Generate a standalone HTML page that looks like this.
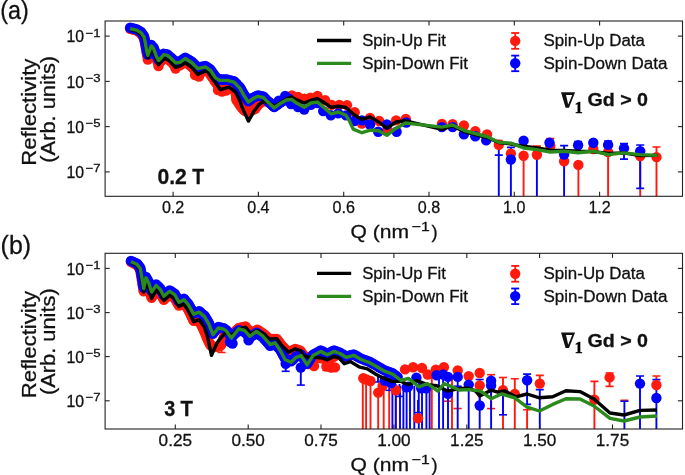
<!DOCTYPE html>
<html><head><meta charset="utf-8"><style>
html,body{margin:0;padding:0;background:#fff;}
body{width:685px;height:475px;overflow:hidden;font-family:"Liberation Sans",sans-serif;}
svg{display:block;will-change:transform;}
text{stroke:#111;stroke-width:0.28px;}
</style></head><body>
<svg width="685" height="475" viewBox="0 0 685 475" font-family="Liberation Sans, sans-serif">
<rect width="685" height="475" fill="#ffffff"/>
<defs><clipPath id="ca"><rect x="105.1" y="21" width="577.4" height="175.3"/></clipPath>
<clipPath id="cb"><rect x="105.1" y="253.3" width="577.4" height="175.7"/></clipPath></defs>
<g clip-path="url(#ca)">
<g stroke="#ff1a0d" stroke-width="1.9"><line x1="498.8" y1="140.6" x2="498.8" y2="144.7"/><line x1="494.8" y1="140.6" x2="502.8" y2="140.6" stroke-width="1.6"/><line x1="536.9" y1="146.1" x2="536.9" y2="154.8"/><line x1="532.9" y1="146.1" x2="540.9" y2="146.1" stroke-width="1.6"/><line x1="550.3" y1="138.5" x2="550.3" y2="146"/><line x1="546.3" y1="138.5" x2="554.3" y2="138.5" stroke-width="1.6"/><line x1="523.6" y1="155.8" x2="523.6" y2="196.3"/><line x1="578.4" y1="164.9" x2="578.4" y2="196.3"/><line x1="593.3" y1="146.5" x2="593.3" y2="151.5"/><line x1="589.3" y1="146.5" x2="597.3" y2="146.5" stroke-width="1.6"/><line x1="589.3" y1="151.5" x2="597.3" y2="151.5" stroke-width="1.6"/><line x1="608.1" y1="151" x2="608.1" y2="196.3"/><line x1="640.2" y1="160" x2="640.2" y2="196.3"/><line x1="656.5" y1="147" x2="656.5" y2="196.3"/><line x1="652.5" y1="147" x2="660.5" y2="147" stroke-width="1.6"/></g>
<g stroke="#0000ff" stroke-width="1.9"><line x1="498.8" y1="147.7" x2="498.8" y2="196.3"/><line x1="494.8" y1="155.1" x2="502.8" y2="155.1" stroke-width="1.6"/><line x1="510.9" y1="147.4" x2="510.9" y2="196.3"/><line x1="506.9" y1="147.4" x2="514.9" y2="147.4" stroke-width="1.6"/><line x1="536.9" y1="155" x2="536.9" y2="196.3"/><line x1="564.1" y1="145.6" x2="564.1" y2="196.3"/><line x1="560.1" y1="145.6" x2="568.1" y2="145.6" stroke-width="1.6"/><line x1="578.1" y1="141.6" x2="578.1" y2="145.3"/><line x1="574.1" y1="141.6" x2="582.1" y2="141.6" stroke-width="1.6"/><line x1="624" y1="143.6" x2="624" y2="159.1"/><line x1="620" y1="143.6" x2="628" y2="143.6" stroke-width="1.6"/><line x1="620" y1="159.1" x2="628" y2="159.1" stroke-width="1.6"/><line x1="640.2" y1="145" x2="640.2" y2="188.4"/><line x1="636.2" y1="145" x2="644.2" y2="145" stroke-width="1.6"/><line x1="636.2" y1="188.4" x2="644.2" y2="188.4" stroke-width="1.6"/><line x1="608.1" y1="141" x2="608.1" y2="148"/><line x1="604.1" y1="141" x2="612.1" y2="141" stroke-width="1.6"/></g>
<g fill="#ff1a0d"><circle cx="130.1" cy="28.8" r="5.2"/><circle cx="132.2" cy="29.3" r="5.2"/><circle cx="134.3" cy="29.9" r="5.2"/><circle cx="136.4" cy="30.4" r="5.2"/><circle cx="138.6" cy="31.8" r="5.2"/><circle cx="140.8" cy="33.2" r="5.2"/><circle cx="141.9" cy="34.9" r="5.2"/><circle cx="142.9" cy="36.5" r="5.2"/><circle cx="144" cy="38.2" r="5.2"/><circle cx="144.4" cy="40.2" r="5.2"/><circle cx="144.9" cy="42.2" r="5.2"/><circle cx="145.3" cy="44.2" r="5.2"/><circle cx="145.6" cy="46.1" r="5.2"/><circle cx="145.9" cy="48" r="5.2"/><circle cx="146.2" cy="49.8" r="5.2"/><circle cx="146.5" cy="51.7" r="5.2"/><circle cx="146.9" cy="53.5" r="5.2"/><circle cx="147.4" cy="55.4" r="5.2"/><circle cx="147.8" cy="57.2" r="5.2"/><circle cx="148.8" cy="55" r="5.2"/><circle cx="149.7" cy="52.7" r="5.2"/><circle cx="150.5" cy="50.5" r="5.2"/><circle cx="151.3" cy="48.2" r="5.2"/><circle cx="153.5" cy="50.7" r="5.2"/><circle cx="154.1" cy="52.5" r="5.2"/><circle cx="154.8" cy="54.2" r="5.2"/><circle cx="155.4" cy="56" r="5.2"/><circle cx="156" cy="57.7" r="5.2"/><circle cx="156.8" cy="59.8" r="5.2"/><circle cx="157.7" cy="61.9" r="5.2"/><circle cx="158.5" cy="64" r="5.2"/><circle cx="159.8" cy="62.4" r="5.2"/><circle cx="161.1" cy="60.7" r="5.2"/><circle cx="162.3" cy="59.2" r="5.2"/><circle cx="163.6" cy="57.7" r="5.2"/><circle cx="165.5" cy="58.2" r="5.2"/><circle cx="167.4" cy="58.7" r="5.2"/><circle cx="169.3" cy="60.2" r="5.2"/><circle cx="171.2" cy="61.7" r="5.2"/><circle cx="172.7" cy="63.3" r="5.2"/><circle cx="174.1" cy="65" r="5.2"/><circle cx="175.6" cy="66.6" r="5.2"/><circle cx="177.8" cy="65.9" r="5.2"/><circle cx="180" cy="65.2" r="5.2"/><circle cx="181.7" cy="64.1" r="5.2"/><circle cx="183.5" cy="63" r="5.2"/><circle cx="185.2" cy="61.9" r="5.2"/><circle cx="186.9" cy="63.1" r="5.2"/><circle cx="188.6" cy="64.3" r="5.2"/><circle cx="190.2" cy="65.5" r="5.2"/><circle cx="191.9" cy="66.7" r="5.2"/><circle cx="193.1" cy="68.1" r="5.2"/><circle cx="194.3" cy="69.5" r="5.2"/><circle cx="195.4" cy="70.9" r="5.2"/><circle cx="196.6" cy="72.3" r="5.2"/><circle cx="197.8" cy="73.7" r="5.2"/><circle cx="199.6" cy="72.9" r="5.2"/><circle cx="201.5" cy="72" r="5.2"/><circle cx="203.3" cy="71.2" r="5.2"/><circle cx="205.2" cy="70.3" r="5.2"/><circle cx="207" cy="69.5" r="5.2"/><circle cx="208.1" cy="71.2" r="5.2"/><circle cx="209.3" cy="72.9" r="5.2"/><circle cx="210.4" cy="74.5" r="5.2"/><circle cx="211.5" cy="76.2" r="5.2"/><circle cx="212.7" cy="77.9" r="5.2"/><circle cx="213.8" cy="79.6" r="5.2"/><circle cx="214.9" cy="81.2" r="5.2"/><circle cx="216" cy="82.7" r="5.2"/><circle cx="217.2" cy="84.3" r="5.2"/><circle cx="218.3" cy="85.8" r="5.2"/><circle cx="219.4" cy="87.4" r="5.2"/><circle cx="220.5" cy="88.9" r="5.2"/><circle cx="222.6" cy="88.3" r="5.2"/><circle cx="224.8" cy="87.7" r="5.2"/><circle cx="226.9" cy="87" r="5.2"/><circle cx="229" cy="86.4" r="5.2"/><circle cx="230.7" cy="87.7" r="5.2"/><circle cx="232.3" cy="88.9" r="5.2"/><circle cx="234" cy="90.2" r="5.2"/><circle cx="235.7" cy="91.4" r="5.2"/><circle cx="235.8" cy="93.5" r="5.2"/><circle cx="236" cy="95.5" r="5.2"/><circle cx="236.2" cy="97.6" r="5.2"/><circle cx="236.3" cy="99.7" r="5.2"/><circle cx="237.7" cy="101.7" r="5.2"/><circle cx="239" cy="103.7" r="5.2"/><circle cx="240.3" cy="105.7" r="5.2"/><circle cx="241.6" cy="107.6" r="5.2"/><circle cx="243.1" cy="109.2" r="5.2"/><circle cx="244.7" cy="110.8" r="5.2"/><circle cx="248" cy="112" r="5.2"/><circle cx="251" cy="110.8" r="5.2"/><circle cx="253.2" cy="109.8" r="5.2"/><circle cx="255.3" cy="108.7" r="5.2"/><circle cx="256.9" cy="106.6" r="5.2"/><circle cx="258.4" cy="104.5" r="5.2"/><circle cx="260.2" cy="103" r="5.2"/><circle cx="262" cy="101.5" r="5.2"/><circle cx="263.2" cy="100.8" r="5.2"/><circle cx="265.8" cy="101.3" r="5.2"/><circle cx="268.4" cy="101.8" r="5.2"/><circle cx="270" cy="102.7" r="5.2"/><circle cx="271.5" cy="103.6" r="5.2"/><circle cx="273.1" cy="104.6" r="5.2"/><circle cx="274.7" cy="105.5" r="5.2"/><circle cx="276.6" cy="104.3" r="5.2"/><circle cx="278.4" cy="103.1" r="5.2"/><circle cx="280.2" cy="102" r="5.2"/><circle cx="282.1" cy="100.8" r="5.2"/><circle cx="283.9" cy="99.7" r="5.2"/><circle cx="285.6" cy="98.7" r="5.2"/><circle cx="287.4" cy="97.6" r="5.2"/><circle cx="289.5" cy="97" r="5.2"/><circle cx="147.8" cy="59.5" r="5.2"/><circle cx="158.5" cy="66" r="5.2"/><circle cx="175.6" cy="68.5" r="5.2"/><circle cx="195" cy="75" r="5.2"/><circle cx="199" cy="76.5" r="5.2"/><circle cx="218" cy="90" r="5.2"/><circle cx="222" cy="91.5" r="5.2"/><circle cx="226" cy="90.5" r="5.2"/><circle cx="291.9" cy="95.4" r="5.2"/><circle cx="298" cy="97" r="5.2"/><circle cx="304.2" cy="98.7" r="5.2"/><circle cx="310.4" cy="97.8" r="5.2"/><circle cx="317.5" cy="95.9" r="5.2"/><circle cx="325.1" cy="100.2" r="5.2"/><circle cx="331.7" cy="104.9" r="5.2"/><circle cx="339.3" cy="104.9" r="5.2"/><circle cx="347" cy="105.1" r="5.2"/><circle cx="354.7" cy="112.3" r="5.2"/><circle cx="361.9" cy="123.5" r="5.2"/><circle cx="370" cy="117.9" r="5.2"/><circle cx="379.2" cy="121" r="5.2"/><circle cx="387.4" cy="129.6" r="5.2"/><circle cx="396.1" cy="120.4" r="5.2"/><circle cx="405.8" cy="119" r="5.2"/><circle cx="441.9" cy="124" r="5.2"/><circle cx="452.6" cy="124.3" r="5.2"/><circle cx="463.9" cy="125.5" r="5.2"/><circle cx="475.3" cy="131.2" r="5.2"/><circle cx="487" cy="134.5" r="5.2"/><circle cx="498.8" cy="144.7" r="5.2"/><circle cx="510.9" cy="153.6" r="5.2"/><circle cx="523.6" cy="155.8" r="5.2"/><circle cx="536.9" cy="154.8" r="5.2"/><circle cx="550.3" cy="146" r="5.2"/><circle cx="564.1" cy="161.3" r="5.2"/><circle cx="578.4" cy="164.9" r="5.2"/><circle cx="593.3" cy="149" r="5.2"/><circle cx="608.1" cy="152" r="5.2"/><circle cx="640.2" cy="156" r="5.2"/><circle cx="656.5" cy="157.1" r="5.2"/></g>
<g fill="#0000ff"><circle cx="130.1" cy="27.7" r="5.2"/><circle cx="132.2" cy="28.2" r="5.2"/><circle cx="134.3" cy="28.7" r="5.2"/><circle cx="136.4" cy="29.2" r="5.2"/><circle cx="138.6" cy="30.5" r="5.2"/><circle cx="140.8" cy="31.7" r="5.2"/><circle cx="141.9" cy="33.2" r="5.2"/><circle cx="142.9" cy="34.7" r="5.2"/><circle cx="144" cy="36.2" r="5.2"/><circle cx="144.4" cy="38.1" r="5.2"/><circle cx="144.9" cy="39.9" r="5.2"/><circle cx="145.3" cy="41.8" r="5.2"/><circle cx="145.6" cy="43.7" r="5.2"/><circle cx="145.9" cy="45.6" r="5.2"/><circle cx="146.2" cy="47.5" r="5.2"/><circle cx="146.5" cy="49.4" r="5.2"/><circle cx="147.2" cy="51.9" r="5.2"/><circle cx="147.8" cy="54.5" r="5.2"/><circle cx="148.4" cy="52.8" r="5.2"/><circle cx="149.1" cy="51.1" r="5.2"/><circle cx="149.7" cy="49.4" r="5.2"/><circle cx="150.5" cy="47.2" r="5.2"/><circle cx="151.3" cy="45" r="5.2"/><circle cx="153.5" cy="47.5" r="5.2"/><circle cx="154.1" cy="49.2" r="5.2"/><circle cx="154.8" cy="51" r="5.2"/><circle cx="155.4" cy="52.8" r="5.2"/><circle cx="156" cy="54.5" r="5.2"/><circle cx="156.8" cy="56.2" r="5.2"/><circle cx="157.7" cy="57.8" r="5.2"/><circle cx="158.5" cy="59.5" r="5.2"/><circle cx="159.8" cy="58.2" r="5.2"/><circle cx="161.1" cy="57" r="5.2"/><circle cx="162.3" cy="55.4" r="5.2"/><circle cx="163.6" cy="53.8" r="5.2"/><circle cx="165.5" cy="54.1" r="5.2"/><circle cx="167.4" cy="54.5" r="5.2"/><circle cx="169.3" cy="56.1" r="5.2"/><circle cx="171.2" cy="57.6" r="5.2"/><circle cx="172.7" cy="59.1" r="5.2"/><circle cx="174.1" cy="60.5" r="5.2"/><circle cx="175.6" cy="62" r="5.2"/><circle cx="177.8" cy="61.7" r="5.2"/><circle cx="180" cy="61.4" r="5.2"/><circle cx="181.7" cy="60.1" r="5.2"/><circle cx="183.5" cy="58.9" r="5.2"/><circle cx="185.2" cy="57.6" r="5.2"/><circle cx="186.9" cy="58.6" r="5.2"/><circle cx="188.6" cy="59.7" r="5.2"/><circle cx="190.2" cy="60.8" r="5.2"/><circle cx="191.9" cy="61.8" r="5.2"/><circle cx="193.4" cy="63.3" r="5.2"/><circle cx="194.9" cy="64.8" r="5.2"/><circle cx="196.3" cy="66.2" r="5.2"/><circle cx="197.8" cy="67.7" r="5.2"/><circle cx="199.7" cy="67.3" r="5.2"/><circle cx="201.6" cy="66.8" r="5.2"/><circle cx="203.5" cy="66.4" r="5.2"/><circle cx="205.4" cy="66" r="5.2"/><circle cx="207.1" cy="67.1" r="5.2"/><circle cx="208.7" cy="68.3" r="5.2"/><circle cx="210.4" cy="69.4" r="5.2"/><circle cx="211.4" cy="70.9" r="5.2"/><circle cx="212.4" cy="72.4" r="5.2"/><circle cx="213.5" cy="74" r="5.2"/><circle cx="214.5" cy="75.5" r="5.2"/><circle cx="215.5" cy="77" r="5.2"/><circle cx="217.6" cy="78.2" r="5.2"/><circle cx="219.7" cy="79.5" r="5.2"/><circle cx="221.6" cy="79.5" r="5.2"/><circle cx="223.5" cy="79.5" r="5.2"/><circle cx="225.4" cy="79.5" r="5.2"/><circle cx="227.3" cy="79.5" r="5.2"/><circle cx="229.5" cy="80.1" r="5.2"/><circle cx="231.8" cy="80.6" r="5.2"/><circle cx="234" cy="81.2" r="5.2"/><circle cx="235.5" cy="82.8" r="5.2"/><circle cx="237" cy="84.3" r="5.2"/><circle cx="238.5" cy="85.9" r="5.2"/><circle cx="240" cy="87.5" r="5.2"/><circle cx="241.1" cy="89.3" r="5.2"/><circle cx="242.1" cy="91.2" r="5.2"/><circle cx="243.1" cy="93" r="5.2"/><circle cx="244.2" cy="94.9" r="5.2"/><circle cx="245.2" cy="96.5" r="5.2"/><circle cx="246.3" cy="98" r="5.2"/><circle cx="247.3" cy="99.6" r="5.2"/><circle cx="248.4" cy="101.2" r="5.2"/><circle cx="250.5" cy="99.6" r="5.2"/><circle cx="252.6" cy="98" r="5.2"/><circle cx="254.4" cy="97.1" r="5.2"/><circle cx="256.1" cy="96.3" r="5.2"/><circle cx="257.9" cy="95.4" r="5.2"/><circle cx="259.7" cy="95.8" r="5.2"/><circle cx="261.4" cy="96.1" r="5.2"/><circle cx="263.2" cy="96.5" r="5.2"/><circle cx="264.5" cy="97.8" r="5.2"/><circle cx="265.8" cy="99.1" r="5.2"/><circle cx="267.1" cy="100.4" r="5.2"/><circle cx="268.4" cy="101.7" r="5.2"/><circle cx="269.8" cy="103" r="5.2"/><circle cx="271.3" cy="104.3" r="5.2"/><circle cx="272.8" cy="105.7" r="5.2"/><circle cx="274.2" cy="107" r="5.2"/><circle cx="276.1" cy="105.6" r="5.2"/><circle cx="278.1" cy="104.2" r="5.2"/><circle cx="280" cy="102.8" r="5.2"/><circle cx="281.6" cy="101.9" r="5.2"/><circle cx="283.1" cy="100.9" r="5.2"/><circle cx="284.7" cy="100" r="5.2"/><circle cx="286.3" cy="99.1" r="5.2"/><circle cx="289" cy="98.8" r="5.2"/><circle cx="278.8" cy="100.8" r="5.2"/><circle cx="285.2" cy="96" r="5.2"/><circle cx="291" cy="104" r="5.2"/><circle cx="298" cy="107" r="5.2"/><circle cx="304.2" cy="109.6" r="5.2"/><circle cx="310.9" cy="104.9" r="5.2"/><circle cx="317.5" cy="103" r="5.2"/><circle cx="323.2" cy="111.1" r="5.2"/><circle cx="330.8" cy="115.3" r="5.2"/><circle cx="338.3" cy="113.4" r="5.2"/><circle cx="346" cy="115.4" r="5.2"/><circle cx="354.2" cy="121" r="5.2"/><circle cx="361.9" cy="120.4" r="5.2"/><circle cx="370" cy="124.5" r="5.2"/><circle cx="378.2" cy="131.7" r="5.2"/><circle cx="386.9" cy="124.5" r="5.2"/><circle cx="396.6" cy="131.7" r="5.2"/><circle cx="406.3" cy="122.5" r="5.2"/><circle cx="441.9" cy="127.1" r="5.2"/><circle cx="452.6" cy="127.1" r="5.2"/><circle cx="463.9" cy="134.2" r="5.2"/><circle cx="475.3" cy="136.2" r="5.2"/><circle cx="486.2" cy="140.4" r="5.2"/><circle cx="510.9" cy="159.5" r="5.2"/><circle cx="523.6" cy="140.8" r="5.2"/><circle cx="549.5" cy="142.8" r="5.2"/><circle cx="564.1" cy="154.5" r="5.2"/><circle cx="578.1" cy="145.3" r="5.2"/><circle cx="593.3" cy="142.7" r="5.2"/><circle cx="608.1" cy="144.9" r="5.2"/><circle cx="624" cy="148.3" r="5.2"/><circle cx="640.2" cy="151.2" r="5.2"/></g>
<polyline points="130.1,29.6 136.4,31.2 140.8,34 144,39 145.3,45 146.5,52.5 147.8,58 149.7,53.5 151.3,49 153.5,51.5 156,58.5 158.5,64.8 161.1,61.5 163.6,58.5 167.4,59.5 171.2,62.5 175.6,67.4 180,66 185.2,62.7 191.9,67.5 197.8,74.5 207,70.3 213.8,80.4 220.5,89.7 229,87.2 235.7,92.2 240,101 242.1,107.4 248.4,121.1 253.7,111.6 258.9,104.7 263.2,101.6 268.4,102.6 274.7,106.3 282.1,101.6 287.4,98.4 291.6,97.2 295.7,99.2 304.2,103 310.9,100.2 317.5,98.7 324.1,102.5 331.2,107.3 338.3,106.3 345.9,107.5 354.2,114.8 361.9,119.4 370,116.9 378.7,122 386.9,128.1 396.1,122 405.6,120.8 441.9,129.3 452.6,126 463.9,131.5 475.3,134.5 487,137.5 498.8,142.5 510.9,144 523.6,146.3 536.9,148 550.3,150.3 564.1,150.5 578.1,151.2 593.3,151.6 608.5,153.5 623.7,152.9 639.7,155.6 657.4,155.4" fill="none" stroke="#000000" stroke-width="3.4" stroke-linejoin="round"/>
<polyline points="130.1,28.6 136.4,30.1 140.8,32.6 144,37.1 145.3,42.7 146.5,50.3 147.8,55.4 149.7,50.3 151.3,45.9 153.5,48.4 156,55.4 158.5,60.4 161.1,57.9 163.6,54.7 167.4,55.4 171.2,58.5 175.6,62.9 180,62.3 185.2,58.5 191.9,62.7 197.8,68.6 205.4,66.9 210.4,70.3 215.5,77.9 219.7,80.4 227.3,80.4 234,82.1 240,88.4 244.2,95.8 248.4,102.1 252.6,98.9 257.9,96.3 263.2,97.4 268.4,102.6 274.2,107.9 280,103.7 286.3,100 291.6,99.4 295.7,102.5 304.2,107.3 310.9,103 317.5,102.1 324.1,107.7 331.2,113.9 338.3,112 345.9,115.3 349.1,120.4 353.2,129.1 361.9,132.7 370.5,130.1 378.7,130.7 386.9,135.3 394,129.6 405.6,123 441.9,127.1 452.6,125 463.9,130.3 475.3,133.5 487,136.5 498.8,142.3 510.9,143.2 523.6,148 536.9,149.6 550.3,152 564.1,151.2 578.1,152.8 593.3,151.2 608.5,154.6 623.7,152.9 639.7,154.6 657.4,155.4" fill="none" stroke="#2a8a1c" stroke-width="3.4" stroke-linejoin="round"/>
</g>
<g clip-path="url(#cb)">
<g stroke="#ff1a0d" stroke-width="1.9"><line x1="326.4" y1="366.5" x2="326.4" y2="370.3"/><line x1="322.4" y1="370.3" x2="330.4" y2="370.3" stroke-width="1.6"/><line x1="362.8" y1="378.1" x2="362.8" y2="429"/><line x1="366.1" y1="380" x2="366.1" y2="429"/><line x1="370.5" y1="381" x2="370.5" y2="429"/><line x1="378.2" y1="392" x2="378.2" y2="429"/><line x1="383.7" y1="385.5" x2="383.7" y2="429"/><line x1="389.2" y1="388" x2="389.2" y2="429"/><line x1="395.9" y1="390.5" x2="395.9" y2="429"/><line x1="431.8" y1="372" x2="431.8" y2="429"/><line x1="452" y1="375" x2="452" y2="429"/><line x1="457.7" y1="408.5" x2="457.7" y2="408.5"/><line x1="453.7" y1="408.5" x2="461.7" y2="408.5" stroke-width="1.6"/><line x1="448" y1="401.2" x2="448" y2="401.2"/><line x1="444" y1="401.2" x2="452" y2="401.2" stroke-width="1.6"/><line x1="479.7" y1="385.5" x2="479.7" y2="410"/><line x1="491.1" y1="374.7" x2="491.1" y2="408.6"/><line x1="487.1" y1="374.7" x2="495.1" y2="374.7" stroke-width="1.6"/><line x1="487.1" y1="408.6" x2="495.1" y2="408.6" stroke-width="1.6"/><line x1="503" y1="377.5" x2="503" y2="429"/><line x1="499" y1="377.5" x2="507" y2="377.5" stroke-width="1.6"/><line x1="514.8" y1="378.8" x2="514.8" y2="429"/><line x1="510.8" y1="378.8" x2="518.8" y2="378.8" stroke-width="1.6"/><line x1="527.1" y1="409.7" x2="527.1" y2="429"/><line x1="523.1" y1="409.7" x2="531.1" y2="409.7" stroke-width="1.6"/><line x1="539.8" y1="375.4" x2="539.8" y2="383.6"/><line x1="535.8" y1="375.4" x2="543.8" y2="375.4" stroke-width="1.6"/><line x1="594.4" y1="381.4" x2="594.4" y2="429"/><line x1="590.4" y1="381.4" x2="598.4" y2="381.4" stroke-width="1.6"/><line x1="609.6" y1="373" x2="609.6" y2="386.4"/><line x1="605.6" y1="373" x2="613.6" y2="373" stroke-width="1.6"/><line x1="605.6" y1="386.4" x2="613.6" y2="386.4" stroke-width="1.6"/><line x1="624.4" y1="400.4" x2="624.4" y2="401"/><line x1="620.4" y1="400.4" x2="628.4" y2="400.4" stroke-width="1.6"/><line x1="656.4" y1="376" x2="656.4" y2="385"/><line x1="652.4" y1="376" x2="660.4" y2="376" stroke-width="1.6"/><line x1="221.6" y1="345.5" x2="221.6" y2="352.5"/><line x1="217.6" y1="352.5" x2="225.6" y2="352.5" stroke-width="1.6"/></g>
<g stroke="#0000ff" stroke-width="1.9"><line x1="285.7" y1="363.7" x2="285.7" y2="371.3"/><line x1="281.7" y1="371.3" x2="289.7" y2="371.3" stroke-width="1.6"/><line x1="300.8" y1="367.5" x2="300.8" y2="385.1"/><line x1="296.8" y1="385.1" x2="304.8" y2="385.1" stroke-width="1.6"/><line x1="378" y1="376" x2="378" y2="382"/><line x1="374" y1="382" x2="382" y2="382" stroke-width="1.6"/><line x1="389.5" y1="380" x2="389.5" y2="390.3"/><line x1="385.5" y1="390.3" x2="393.5" y2="390.3" stroke-width="1.6"/><line x1="399.5" y1="384" x2="399.5" y2="396.4"/><line x1="395.5" y1="396.4" x2="403.5" y2="396.4" stroke-width="1.6"/><line x1="392.4" y1="383" x2="392.4" y2="429"/><line x1="395.7" y1="384" x2="395.7" y2="429"/><line x1="400" y1="386" x2="400" y2="429"/><line x1="403.4" y1="386" x2="403.4" y2="429"/><line x1="406.6" y1="387" x2="406.6" y2="429"/><line x1="410" y1="386" x2="410" y2="429"/><line x1="414.3" y1="386" x2="414.3" y2="429"/><line x1="418.8" y1="378" x2="418.8" y2="429"/><line x1="418" y1="400" x2="418" y2="412.6"/><line x1="414" y1="412.6" x2="422" y2="412.6" stroke-width="1.6"/><line x1="422" y1="388" x2="422" y2="429"/><line x1="426.4" y1="388" x2="426.4" y2="429"/><line x1="429.6" y1="388" x2="429.6" y2="429"/><line x1="439" y1="376" x2="439" y2="429"/><line x1="443.1" y1="375" x2="443.1" y2="429"/><line x1="448" y1="377" x2="448" y2="429"/><line x1="457.7" y1="377" x2="457.7" y2="429"/><line x1="453.7" y1="386.2" x2="461.7" y2="386.2" stroke-width="1.6"/><line x1="468.7" y1="384.6" x2="468.7" y2="429"/><line x1="479.7" y1="379.5" x2="479.7" y2="429"/><line x1="475.7" y1="379.5" x2="483.7" y2="379.5" stroke-width="1.6"/><line x1="491.1" y1="380.7" x2="491.1" y2="429"/><line x1="503" y1="395" x2="503" y2="414.8"/><line x1="499" y1="414.8" x2="507" y2="414.8" stroke-width="1.6"/><line x1="527.1" y1="374.1" x2="527.1" y2="404.4"/><line x1="523.1" y1="374.1" x2="531.1" y2="374.1" stroke-width="1.6"/><line x1="523.1" y1="404.4" x2="531.1" y2="404.4" stroke-width="1.6"/><line x1="539.8" y1="389.6" x2="539.8" y2="429"/><line x1="535.8" y1="389.6" x2="543.8" y2="389.6" stroke-width="1.6"/><line x1="624.4" y1="401.2" x2="624.4" y2="429"/><line x1="620.4" y1="401.2" x2="628.4" y2="401.2" stroke-width="1.6"/><line x1="640" y1="376" x2="640" y2="429"/><line x1="636" y1="376" x2="644" y2="376" stroke-width="1.6"/><line x1="656.4" y1="379.6" x2="656.4" y2="429"/><line x1="652.4" y1="379.6" x2="660.4" y2="379.6" stroke-width="1.6"/></g>
<g fill="#ff1a0d"><circle cx="130.9" cy="261.8" r="5.2"/><circle cx="132.9" cy="262.8" r="5.2"/><circle cx="134.8" cy="263.8" r="5.2"/><circle cx="136.8" cy="264.8" r="5.2"/><circle cx="137.9" cy="266.4" r="5.2"/><circle cx="139.1" cy="268.1" r="5.2"/><circle cx="140.2" cy="269.7" r="5.2"/><circle cx="140.5" cy="271.8" r="5.2"/><circle cx="140.9" cy="273.9" r="5.2"/><circle cx="141.2" cy="276" r="5.2"/><circle cx="141.6" cy="278.1" r="5.2"/><circle cx="141.9" cy="280.2" r="5.2"/><circle cx="142.2" cy="282" r="5.2"/><circle cx="142.5" cy="283.9" r="5.2"/><circle cx="142.8" cy="285.7" r="5.2"/><circle cx="143.1" cy="287.5" r="5.2"/><circle cx="143.4" cy="289.4" r="5.2"/><circle cx="143.7" cy="291.2" r="5.2"/><circle cx="144.2" cy="289.4" r="5.2"/><circle cx="144.6" cy="287.6" r="5.2"/><circle cx="145.1" cy="285.8" r="5.2"/><circle cx="145.5" cy="284" r="5.2"/><circle cx="146" cy="282.2" r="5.2"/><circle cx="147.3" cy="284.4" r="5.2"/><circle cx="148.6" cy="286.7" r="5.2"/><circle cx="149.1" cy="288.5" r="5.2"/><circle cx="149.6" cy="290.4" r="5.2"/><circle cx="150.1" cy="292.2" r="5.2"/><circle cx="150.6" cy="294" r="5.2"/><circle cx="151.1" cy="295.9" r="5.2"/><circle cx="151.6" cy="297.7" r="5.2"/><circle cx="152.5" cy="296" r="5.2"/><circle cx="153.4" cy="294.3" r="5.2"/><circle cx="154.4" cy="292.6" r="5.2"/><circle cx="155.3" cy="290.9" r="5.2"/><circle cx="156.2" cy="289.2" r="5.2"/><circle cx="157.6" cy="290.5" r="5.2"/><circle cx="159" cy="291.9" r="5.2"/><circle cx="160.4" cy="293.2" r="5.2"/><circle cx="161.2" cy="294.8" r="5.2"/><circle cx="162.1" cy="296.4" r="5.2"/><circle cx="163" cy="298.1" r="5.2"/><circle cx="163.8" cy="299.7" r="5.2"/><circle cx="165.3" cy="298.3" r="5.2"/><circle cx="166.8" cy="296.9" r="5.2"/><circle cx="168.2" cy="295.6" r="5.2"/><circle cx="169.7" cy="294.2" r="5.2"/><circle cx="171.4" cy="295.5" r="5.2"/><circle cx="173" cy="296.9" r="5.2"/><circle cx="174.7" cy="298.2" r="5.2"/><circle cx="175.8" cy="300.1" r="5.2"/><circle cx="176.8" cy="301.9" r="5.2"/><circle cx="177.8" cy="303.7" r="5.2"/><circle cx="178.9" cy="305.6" r="5.2"/><circle cx="180.6" cy="304.8" r="5.2"/><circle cx="182.3" cy="304" r="5.2"/><circle cx="184" cy="303.2" r="5.2"/><circle cx="185.1" cy="304.7" r="5.2"/><circle cx="186.1" cy="306.2" r="5.2"/><circle cx="187.1" cy="307.8" r="5.2"/><circle cx="188.2" cy="309.3" r="5.2"/><circle cx="189" cy="311" r="5.2"/><circle cx="189.8" cy="312.6" r="5.2"/><circle cx="190.6" cy="314.3" r="5.2"/><circle cx="191.3" cy="315.9" r="5.2"/><circle cx="192.1" cy="317.6" r="5.2"/><circle cx="192.9" cy="319.2" r="5.2"/><circle cx="193.7" cy="320.9" r="5.2"/><circle cx="196.3" cy="320.8" r="5.2"/><circle cx="199" cy="320.7" r="5.2"/><circle cx="199.9" cy="322.3" r="5.2"/><circle cx="200.8" cy="323.9" r="5.2"/><circle cx="201.6" cy="325.6" r="5.2"/><circle cx="202.5" cy="327.2" r="5.2"/><circle cx="203.2" cy="328.9" r="5.2"/><circle cx="204" cy="330.7" r="5.2"/><circle cx="204.8" cy="332.4" r="5.2"/><circle cx="205.5" cy="334.2" r="5.2"/><circle cx="206.3" cy="336.2" r="5.2"/><circle cx="207.2" cy="338.2" r="5.2"/><circle cx="208" cy="340.2" r="5.2"/><circle cx="208.8" cy="341.9" r="5.2"/><circle cx="209.7" cy="343.5" r="5.2"/><circle cx="210.5" cy="345.2" r="5.2"/><circle cx="212.2" cy="345.9" r="5.2"/><circle cx="214" cy="346.7" r="5.2"/><circle cx="217.5" cy="346.7" r="5.2"/><circle cx="219.2" cy="345.9" r="5.2"/><circle cx="221" cy="345.2" r="5.2"/><circle cx="221.8" cy="343.2" r="5.2"/><circle cx="222.5" cy="341.2" r="5.2"/><circle cx="223.2" cy="339.2" r="5.2"/><circle cx="224" cy="337.2" r="5.2"/><circle cx="224.7" cy="335.2" r="5.2"/><circle cx="225.5" cy="333.2" r="5.2"/><circle cx="226.2" cy="331.2" r="5.2"/><circle cx="227.9" cy="332.4" r="5.2"/><circle cx="229.6" cy="333.6" r="5.2"/><circle cx="231.3" cy="334.8" r="5.2"/><circle cx="232.8" cy="333.4" r="5.2"/><circle cx="234.3" cy="332.1" r="5.2"/><circle cx="235.8" cy="330.7" r="5.2"/><circle cx="237.3" cy="329.4" r="5.2"/><circle cx="238.8" cy="328" r="5.2"/><circle cx="241.1" cy="327.5" r="5.2"/><circle cx="243.3" cy="326.9" r="5.2"/><circle cx="245.6" cy="326.4" r="5.2"/><circle cx="246.8" cy="328.1" r="5.2"/><circle cx="248.1" cy="329.7" r="5.2"/><circle cx="249.3" cy="331.4" r="5.2"/><circle cx="250.6" cy="333.1" r="5.2"/><circle cx="252.3" cy="332.2" r="5.2"/><circle cx="254" cy="331.4" r="5.2"/><circle cx="255.7" cy="330.6" r="5.2"/><circle cx="257.4" cy="329.7" r="5.2"/><circle cx="259.1" cy="330.8" r="5.2"/><circle cx="260.8" cy="331.9" r="5.2"/><circle cx="262.4" cy="333" r="5.2"/><circle cx="264.1" cy="334.1" r="5.2"/><circle cx="265.8" cy="335.8" r="5.2"/><circle cx="267.5" cy="337.4" r="5.2"/><circle cx="269.2" cy="339.1" r="5.2"/><circle cx="271.1" cy="339" r="5.2"/><circle cx="273" cy="339" r="5.2"/><circle cx="274.9" cy="338.9" r="5.2"/><circle cx="276.8" cy="338.9" r="5.2"/><circle cx="278.1" cy="340.6" r="5.2"/><circle cx="279.3" cy="342.3" r="5.2"/><circle cx="280.6" cy="344" r="5.2"/><circle cx="281.8" cy="345.7" r="5.2"/><circle cx="283.2" cy="347" r="5.2"/><circle cx="284.5" cy="348.4" r="5.2"/><circle cx="285.9" cy="349.7" r="5.2"/><circle cx="287.2" cy="351.1" r="5.2"/><circle cx="288.6" cy="352.4" r="5.2"/><circle cx="290.3" cy="351.6" r="5.2"/><circle cx="292" cy="350.7" r="5.2"/><circle cx="293.6" cy="349.8" r="5.2"/><circle cx="295.3" cy="349" r="5.2"/><circle cx="297.9" cy="349.8" r="5.2"/><circle cx="300.4" cy="350.7" r="5.2"/><circle cx="301.5" cy="352.4" r="5.2"/><circle cx="302.6" cy="354.1" r="5.2"/><circle cx="303.7" cy="355.8" r="5.2"/><circle cx="306.2" cy="356.7" r="5.2"/><circle cx="308.8" cy="357.5" r="5.2"/><circle cx="311" cy="357.5" r="5.2"/><circle cx="313.3" cy="357.5" r="5.2"/><circle cx="315.5" cy="357.5" r="5.2"/><circle cx="317.8" cy="357.8" r="5.2"/><circle cx="320" cy="358" r="5.2"/><circle cx="322.3" cy="358.3" r="5.2"/><circle cx="324.8" cy="359.2" r="5.2"/><circle cx="327.3" cy="360" r="5.2"/><circle cx="329" cy="359.1" r="5.2"/><circle cx="330.7" cy="358.3" r="5.2"/><circle cx="332.4" cy="357.4" r="5.2"/><circle cx="334.1" cy="356.6" r="5.2"/><circle cx="326.4" cy="366.5" r="5.2"/><circle cx="331.2" cy="367.5" r="5.2"/><circle cx="335" cy="367.4" r="5.2"/><circle cx="363.3" cy="378.2" r="5.2"/><circle cx="366.4" cy="379.5" r="5.2"/><circle cx="370.5" cy="381" r="5.2"/><circle cx="378.2" cy="392.6" r="5.2"/><circle cx="382.6" cy="386" r="5.2"/><circle cx="395.9" cy="390.3" r="5.2"/><circle cx="405" cy="369.4" r="5.2"/><circle cx="413.1" cy="367.2" r="5.2"/><circle cx="422" cy="368" r="5.2"/><circle cx="427.7" cy="374.5" r="5.2"/><circle cx="435.8" cy="369.6" r="5.2"/><circle cx="443.9" cy="367.2" r="5.2"/><circle cx="457.7" cy="370.4" r="5.2"/><circle cx="418" cy="418.2" r="5.2"/><circle cx="468.7" cy="376.1" r="5.2"/><circle cx="479.7" cy="373" r="5.2"/><circle cx="479.7" cy="385.5" r="5.2"/><circle cx="503" cy="390.2" r="5.2"/><circle cx="514.8" cy="394" r="5.2"/><circle cx="539.8" cy="383.6" r="5.2"/><circle cx="594.4" cy="399.6" r="5.2"/><circle cx="609.6" cy="377.4" r="5.2"/><circle cx="656.4" cy="385" r="5.2"/><circle cx="308" cy="364" r="5.2"/><circle cx="314" cy="366" r="5.2"/></g>
<g fill="#0000ff"><circle cx="130.9" cy="260.9" r="5.2"/><circle cx="132.9" cy="261.7" r="5.2"/><circle cx="134.8" cy="262.6" r="5.2"/><circle cx="136.8" cy="263.4" r="5.2"/><circle cx="137.9" cy="264.8" r="5.2"/><circle cx="139.1" cy="266.2" r="5.2"/><circle cx="140.2" cy="267.6" r="5.2"/><circle cx="140.5" cy="269.4" r="5.2"/><circle cx="140.9" cy="271.2" r="5.2"/><circle cx="141.2" cy="273" r="5.2"/><circle cx="141.6" cy="274.8" r="5.2"/><circle cx="141.9" cy="276.6" r="5.2"/><circle cx="142.2" cy="278.4" r="5.2"/><circle cx="142.5" cy="280.3" r="5.2"/><circle cx="142.8" cy="282.1" r="5.2"/><circle cx="143.1" cy="283.9" r="5.2"/><circle cx="143.4" cy="285.8" r="5.2"/><circle cx="143.7" cy="287.6" r="5.2"/><circle cx="144.1" cy="285.8" r="5.2"/><circle cx="144.5" cy="284" r="5.2"/><circle cx="144.8" cy="282.2" r="5.2"/><circle cx="145.2" cy="280.5" r="5.2"/><circle cx="145.6" cy="278.7" r="5.2"/><circle cx="146" cy="276.9" r="5.2"/><circle cx="147.3" cy="279.2" r="5.2"/><circle cx="148.6" cy="281.6" r="5.2"/><circle cx="149.2" cy="283.5" r="5.2"/><circle cx="149.8" cy="285.4" r="5.2"/><circle cx="150.4" cy="287.3" r="5.2"/><circle cx="151" cy="289.2" r="5.2"/><circle cx="151.6" cy="291.1" r="5.2"/><circle cx="152.8" cy="289.5" r="5.2"/><circle cx="153.9" cy="287.8" r="5.2"/><circle cx="155" cy="286.1" r="5.2"/><circle cx="156.2" cy="284.5" r="5.2"/><circle cx="157.6" cy="285.9" r="5.2"/><circle cx="159" cy="287.3" r="5.2"/><circle cx="160.4" cy="288.7" r="5.2"/><circle cx="161.2" cy="290.4" r="5.2"/><circle cx="162.1" cy="292.1" r="5.2"/><circle cx="163" cy="293.7" r="5.2"/><circle cx="163.8" cy="295.4" r="5.2"/><circle cx="165.3" cy="294.2" r="5.2"/><circle cx="166.8" cy="292.9" r="5.2"/><circle cx="168.2" cy="291.7" r="5.2"/><circle cx="169.7" cy="290.4" r="5.2"/><circle cx="171.4" cy="291.5" r="5.2"/><circle cx="173" cy="292.6" r="5.2"/><circle cx="174.7" cy="293.7" r="5.2"/><circle cx="175.8" cy="295.6" r="5.2"/><circle cx="176.8" cy="297.5" r="5.2"/><circle cx="177.8" cy="299.4" r="5.2"/><circle cx="178.9" cy="301.3" r="5.2"/><circle cx="180.6" cy="300.5" r="5.2"/><circle cx="182.3" cy="299.6" r="5.2"/><circle cx="184" cy="298.8" r="5.2"/><circle cx="185.4" cy="300.4" r="5.2"/><circle cx="186.8" cy="302.1" r="5.2"/><circle cx="188.2" cy="303.7" r="5.2"/><circle cx="189.1" cy="305.3" r="5.2"/><circle cx="190" cy="306.9" r="5.2"/><circle cx="190.9" cy="308.5" r="5.2"/><circle cx="191.9" cy="310.1" r="5.2"/><circle cx="192.8" cy="311.7" r="5.2"/><circle cx="193.7" cy="313.3" r="5.2"/><circle cx="195.5" cy="312.6" r="5.2"/><circle cx="197.4" cy="311.9" r="5.2"/><circle cx="199.2" cy="311.2" r="5.2"/><circle cx="200.6" cy="312.4" r="5.2"/><circle cx="201.9" cy="313.6" r="5.2"/><circle cx="203.3" cy="314.8" r="5.2"/><circle cx="204.7" cy="316" r="5.2"/><circle cx="205.7" cy="317.7" r="5.2"/><circle cx="206.8" cy="319.5" r="5.2"/><circle cx="207.8" cy="321.2" r="5.2"/><circle cx="208.8" cy="322.9" r="5.2"/><circle cx="209.5" cy="324.7" r="5.2"/><circle cx="210.2" cy="326.5" r="5.2"/><circle cx="210.9" cy="328.4" r="5.2"/><circle cx="211.5" cy="330.2" r="5.2"/><circle cx="212.2" cy="332" r="5.2"/><circle cx="212.9" cy="333.8" r="5.2"/><circle cx="214.3" cy="332.1" r="5.2"/><circle cx="215.7" cy="330.4" r="5.2"/><circle cx="217" cy="328.7" r="5.2"/><circle cx="218.4" cy="327" r="5.2"/><circle cx="220.2" cy="327.4" r="5.2"/><circle cx="222" cy="327.9" r="5.2"/><circle cx="223.8" cy="328.3" r="5.2"/><circle cx="226.2" cy="329.9" r="5.2"/><circle cx="227.5" cy="331.7" r="5.2"/><circle cx="228.8" cy="333.6" r="5.2"/><circle cx="230" cy="335.4" r="5.2"/><circle cx="231.3" cy="337.2" r="5.2"/><circle cx="232.8" cy="335.8" r="5.2"/><circle cx="234.3" cy="334.4" r="5.2"/><circle cx="235.8" cy="332.9" r="5.2"/><circle cx="237.3" cy="331.5" r="5.2"/><circle cx="238.8" cy="330.1" r="5.2"/><circle cx="240.8" cy="330.7" r="5.2"/><circle cx="242.7" cy="331.2" r="5.2"/><circle cx="244.7" cy="331.8" r="5.2"/><circle cx="246" cy="333.3" r="5.2"/><circle cx="247.2" cy="334.8" r="5.2"/><circle cx="248.5" cy="336.2" r="5.2"/><circle cx="249.8" cy="337.7" r="5.2"/><circle cx="251.5" cy="336.4" r="5.2"/><circle cx="253.2" cy="335.2" r="5.2"/><circle cx="254.8" cy="333.9" r="5.2"/><circle cx="256.5" cy="332.7" r="5.2"/><circle cx="258" cy="333.8" r="5.2"/><circle cx="259.4" cy="334.8" r="5.2"/><circle cx="260.9" cy="335.9" r="5.2"/><circle cx="262.4" cy="336.9" r="5.2"/><circle cx="263.9" cy="338.6" r="5.2"/><circle cx="265.4" cy="340.2" r="5.2"/><circle cx="266.8" cy="341.9" r="5.2"/><circle cx="268.3" cy="343.6" r="5.2"/><circle cx="270.1" cy="345.9" r="5.2"/><circle cx="272.6" cy="345.1" r="5.2"/><circle cx="275.1" cy="344.2" r="5.2"/><circle cx="276.4" cy="345.6" r="5.2"/><circle cx="277.6" cy="346.9" r="5.2"/><circle cx="278.9" cy="348.2" r="5.2"/><circle cx="280.2" cy="349.6" r="5.2"/><circle cx="281.2" cy="351.5" r="5.2"/><circle cx="282.2" cy="353.3" r="5.2"/><circle cx="283.2" cy="355.2" r="5.2"/><circle cx="284.2" cy="357" r="5.2"/><circle cx="285.2" cy="358.9" r="5.2"/><circle cx="287.2" cy="359.7" r="5.2"/><circle cx="289.1" cy="360.6" r="5.2"/><circle cx="291.1" cy="361.4" r="5.2"/><circle cx="292.8" cy="359.7" r="5.2"/><circle cx="294.5" cy="358.1" r="5.2"/><circle cx="296.2" cy="356.4" r="5.2"/><circle cx="298.7" cy="355.6" r="5.2"/><circle cx="301.2" cy="354.7" r="5.2"/><circle cx="302.2" cy="356.2" r="5.2"/><circle cx="303.2" cy="357.8" r="5.2"/><circle cx="304.1" cy="359.3" r="5.2"/><circle cx="305.1" cy="360.8" r="5.2"/><circle cx="306.1" cy="362.4" r="5.2"/><circle cx="307.1" cy="363.9" r="5.2"/><circle cx="308.1" cy="362.4" r="5.2"/><circle cx="309.1" cy="360.8" r="5.2"/><circle cx="310.1" cy="359.3" r="5.2"/><circle cx="311" cy="357.8" r="5.2"/><circle cx="312" cy="356.2" r="5.2"/><circle cx="313" cy="354.7" r="5.2"/><circle cx="314.9" cy="353.7" r="5.2"/><circle cx="316.8" cy="352.6" r="5.2"/><circle cx="318.7" cy="351.6" r="5.2"/><circle cx="320.6" cy="350.5" r="5.2"/><circle cx="322.3" cy="351.3" r="5.2"/><circle cx="324" cy="352.1" r="5.2"/><circle cx="325.6" cy="353" r="5.2"/><circle cx="327.3" cy="353.8" r="5.2"/><circle cx="329" cy="353" r="5.2"/><circle cx="330.7" cy="352.1" r="5.2"/><circle cx="332.4" cy="351.3" r="5.2"/><circle cx="334.1" cy="350.5" r="5.2"/><circle cx="336.1" cy="351.2" r="5.2"/><circle cx="338" cy="351.9" r="5.2"/><circle cx="340" cy="352.6" r="5.2"/><circle cx="341.6" cy="353.6" r="5.2"/><circle cx="343.1" cy="354.6" r="5.2"/><circle cx="344.7" cy="355.5" r="5.2"/><circle cx="346.3" cy="356.5" r="5.2"/><circle cx="348.1" cy="356" r="5.2"/><circle cx="350" cy="355.5" r="5.2"/><circle cx="351.9" cy="354.9" r="5.2"/><circle cx="353.7" cy="354.4" r="5.2"/><circle cx="355.6" cy="355.5" r="5.2"/><circle cx="357.4" cy="356.5" r="5.2"/><circle cx="359.2" cy="357.6" r="5.2"/><circle cx="361.1" cy="358.6" r="5.2"/><circle cx="363.2" cy="359.4" r="5.2"/><circle cx="365.3" cy="360.2" r="5.2"/><circle cx="367.4" cy="360.9" r="5.2"/><circle cx="369.5" cy="361.7" r="5.2"/><circle cx="371.3" cy="362.8" r="5.2"/><circle cx="373.1" cy="363.8" r="5.2"/><circle cx="375" cy="364.9" r="5.2"/><circle cx="376.8" cy="365.9" r="5.2"/><circle cx="378.6" cy="367" r="5.2"/><circle cx="380.5" cy="368" r="5.2"/><circle cx="382.4" cy="369.1" r="5.2"/><circle cx="384.2" cy="370.1" r="5.2"/><circle cx="386.3" cy="370.9" r="5.2"/><circle cx="388.4" cy="371.7" r="5.2"/><circle cx="390.5" cy="372.5" r="5.2"/><circle cx="392.6" cy="373.3" r="5.2"/><circle cx="394.3" cy="374.6" r="5.2"/><circle cx="396" cy="375.8" r="5.2"/><circle cx="397.7" cy="377.1" r="5.2"/><circle cx="285.7" cy="363.7" r="5.2"/><circle cx="300.8" cy="367.5" r="5.2"/><circle cx="384.7" cy="380.5" r="5.2"/><circle cx="391" cy="383" r="5.2"/><circle cx="406.6" cy="387.4" r="5.2"/><circle cx="408.2" cy="386.6" r="5.2"/><circle cx="416.4" cy="377.7" r="5.2"/><circle cx="421.2" cy="388.2" r="5.2"/><circle cx="426.1" cy="388.2" r="5.2"/><circle cx="436.6" cy="375.3" r="5.2"/><circle cx="443.1" cy="374.5" r="5.2"/><circle cx="448" cy="376.9" r="5.2"/><circle cx="448" cy="393.9" r="5.2"/><circle cx="457.7" cy="376.9" r="5.2"/><circle cx="468.7" cy="384.6" r="5.2"/><circle cx="479.7" cy="405.5" r="5.2"/><circle cx="491.1" cy="380.7" r="5.2"/><circle cx="491.1" cy="385.5" r="5.2"/><circle cx="527.1" cy="380.2" r="5.2"/><circle cx="640" cy="383.6" r="5.2"/><circle cx="656.4" cy="398" r="5.2"/><circle cx="232.5" cy="343.5" r="5.2"/><circle cx="230" cy="342" r="5.2"/><circle cx="248.6" cy="340.3" r="5.2"/></g>
<polyline points="130.9,262.6 136.8,265.6 140.2,270.5 141.9,281 143.7,292 146,283 148.6,287.5 151.6,298.5 156.2,290 160.4,294 163.8,300.5 169.7,295 174.7,299 178.9,306.4 184,304 188.2,310.1 193.7,321.7 199.2,319.7 204,326.5 207.4,336.1 211.5,355.3 217,343 221.1,337.5 226.2,332 231.3,335.6 238.8,328.8 245.6,327.2 250.6,333.9 257.4,330.5 264.1,333.9 269.2,338.9 276.8,338.7 281.8,345.5 288.6,352.2 295.3,348.8 300.4,350.5 303.7,355.6 308.8,357.3 315.5,357.3 322.3,358.1 327.3,359.8 334.1,356.4 339.1,358.1 344.2,363.7 350.5,361.6 358.9,366.8 367.4,368.9 375.8,374.2 384.2,378.4 392.6,381.6 400,381 408.4,384.7 416.8,380.5 427.4,384.7 436.8,385.8 447.4,391.1 456.8,389 467.4,387.9 475.8,391.1 479.7,395.9 491.1,390.2 497.7,392.1 504.4,390.8 515.7,396.8 527.1,394 539.4,397.8 552.7,396.8 565.9,390.8 580,391.6 594,399 610,413 624,415 640,410.4 657,410" fill="none" stroke="#000000" stroke-width="3.4" stroke-linejoin="round"/>
<polyline points="130.9,261.8 136.8,264.3 140.2,268.5 141.9,277.5 143.7,288.5 146,277.8 148.6,282.5 151.6,292 156.2,285.4 160.4,289.6 163.8,296.3 169.7,291.3 174.7,294.6 178.9,302.2 184,299.7 188.2,304.6 193.7,314.2 199.2,312.1 204.7,316.9 208.8,323.8 212.9,334.7 218.4,327.9 223.8,329.2 226.2,330.8 231.3,338.1 238.8,328.8 244.7,330.5 249.8,336.4 256.5,331.4 262.4,335.6 268.3,342.3 270.1,344.6 275.1,342.9 280.2,350.5 285.2,359.8 291.1,362.3 296.2,357.3 301.2,355.6 307.1,364.8 313,355.6 320.6,351.4 327.3,354.7 334.1,351.4 340,353.5 346.3,357.4 353.7,355.3 361.1,359.5 369.5,362.6 376.8,366.8 384.2,371 392.6,374.2 401.1,380.5 408.4,378.4 418.9,386.8 427.4,383.7 437.9,391.1 444.2,383.7 454.7,387.9 458.9,390 469.5,389.6 480.7,391.1 491.1,398.7 501.5,394 514.8,397.8 527.1,407.2 539.4,411 552.7,404.4 565.9,398.7 580,399 594,406 610,418.4 624,421 640,417 657,416" fill="none" stroke="#2a8a1c" stroke-width="3.4" stroke-linejoin="round"/>
</g>
<g stroke="#222222" stroke-width="1.1" fill="none">
<rect x="105.1" y="21" width="577.4" height="175.3"/>
<line x1="173.1" y1="196.3" x2="173.1" y2="191.7"/>
<line x1="173.1" y1="21" x2="173.1" y2="25.6"/>
<line x1="258.4" y1="196.3" x2="258.4" y2="191.7"/>
<line x1="258.4" y1="21" x2="258.4" y2="25.6"/>
<line x1="343.7" y1="196.3" x2="343.7" y2="191.7"/>
<line x1="343.7" y1="21" x2="343.7" y2="25.6"/>
<line x1="429" y1="196.3" x2="429" y2="191.7"/>
<line x1="429" y1="21" x2="429" y2="25.6"/>
<line x1="514.3" y1="196.3" x2="514.3" y2="191.7"/>
<line x1="514.3" y1="21" x2="514.3" y2="25.6"/>
<line x1="599.6" y1="196.3" x2="599.6" y2="191.7"/>
<line x1="599.6" y1="21" x2="599.6" y2="25.6"/>
<line x1="105.1" y1="36.1" x2="109.7" y2="36.1"/>
<line x1="682.5" y1="36.1" x2="677.9" y2="36.1"/>
<line x1="105.1" y1="81.4" x2="109.7" y2="81.4"/>
<line x1="682.5" y1="81.4" x2="677.9" y2="81.4"/>
<line x1="105.1" y1="126.6" x2="109.7" y2="126.6"/>
<line x1="682.5" y1="126.6" x2="677.9" y2="126.6"/>
<line x1="105.1" y1="171.9" x2="109.7" y2="171.9"/>
<line x1="682.5" y1="171.9" x2="677.9" y2="171.9"/>
</g>
<g font-size="16.4" text-anchor="middle" fill="#111">
<text x="173.1" y="212.8" textLength="22.4" lengthAdjust="spacingAndGlyphs">0.2</text>
<text x="258.4" y="212.8" textLength="22.4" lengthAdjust="spacingAndGlyphs">0.4</text>
<text x="343.7" y="212.8" textLength="22.4" lengthAdjust="spacingAndGlyphs">0.6</text>
<text x="429" y="212.8" textLength="22.4" lengthAdjust="spacingAndGlyphs">0.8</text>
<text x="514.3" y="212.8" textLength="22.4" lengthAdjust="spacingAndGlyphs">1.0</text>
<text x="599.6" y="212.8" textLength="22.4" lengthAdjust="spacingAndGlyphs">1.2</text>
</g>
<g fill="#111">
<text x="66.4" y="42.2" font-size="15.7" textLength="17.6" lengthAdjust="spacingAndGlyphs">10</text>
<text x="85.6" y="36.6" font-size="11.2" textLength="15" lengthAdjust="spacingAndGlyphs">&#8722;1</text>
<text x="66.4" y="87.5" font-size="15.7" textLength="17.6" lengthAdjust="spacingAndGlyphs">10</text>
<text x="85.6" y="81.9" font-size="11.2" textLength="15" lengthAdjust="spacingAndGlyphs">&#8722;3</text>
<text x="66.4" y="132.7" font-size="15.7" textLength="17.6" lengthAdjust="spacingAndGlyphs">10</text>
<text x="85.6" y="127.1" font-size="11.2" textLength="15" lengthAdjust="spacingAndGlyphs">&#8722;5</text>
<text x="66.4" y="178" font-size="15.7" textLength="17.6" lengthAdjust="spacingAndGlyphs">10</text>
<text x="85.6" y="172.4" font-size="11.2" textLength="15" lengthAdjust="spacingAndGlyphs">&#8722;7</text>
</g>
<g stroke="#222222" stroke-width="1.1" fill="none">
<rect x="105.1" y="253.3" width="577.4" height="175.7"/>
<line x1="175.3" y1="429" x2="175.3" y2="424.4"/>
<line x1="175.3" y1="253.3" x2="175.3" y2="257.9"/>
<line x1="248.2" y1="429" x2="248.2" y2="424.4"/>
<line x1="248.2" y1="253.3" x2="248.2" y2="257.9"/>
<line x1="321" y1="429" x2="321" y2="424.4"/>
<line x1="321" y1="253.3" x2="321" y2="257.9"/>
<line x1="393.9" y1="429" x2="393.9" y2="424.4"/>
<line x1="393.9" y1="253.3" x2="393.9" y2="257.9"/>
<line x1="466.8" y1="429" x2="466.8" y2="424.4"/>
<line x1="466.8" y1="253.3" x2="466.8" y2="257.9"/>
<line x1="539.6" y1="429" x2="539.6" y2="424.4"/>
<line x1="539.6" y1="253.3" x2="539.6" y2="257.9"/>
<line x1="612.5" y1="429" x2="612.5" y2="424.4"/>
<line x1="612.5" y1="253.3" x2="612.5" y2="257.9"/>
<line x1="105.1" y1="268.4" x2="109.7" y2="268.4"/>
<line x1="682.5" y1="268.4" x2="677.9" y2="268.4"/>
<line x1="105.1" y1="312.6" x2="109.7" y2="312.6"/>
<line x1="682.5" y1="312.6" x2="677.9" y2="312.6"/>
<line x1="105.1" y1="356.6" x2="109.7" y2="356.6"/>
<line x1="682.5" y1="356.6" x2="677.9" y2="356.6"/>
<line x1="105.1" y1="400.8" x2="109.7" y2="400.8"/>
<line x1="682.5" y1="400.8" x2="677.9" y2="400.8"/>
</g>
<g font-size="16.4" text-anchor="middle" fill="#111">
<text x="175.3" y="445.5" textLength="33.4" lengthAdjust="spacingAndGlyphs">0.25</text>
<text x="248.2" y="445.5" textLength="33.4" lengthAdjust="spacingAndGlyphs">0.50</text>
<text x="321" y="445.5" textLength="33.4" lengthAdjust="spacingAndGlyphs">0.75</text>
<text x="393.9" y="445.5" textLength="33.4" lengthAdjust="spacingAndGlyphs">1.00</text>
<text x="466.8" y="445.5" textLength="33.4" lengthAdjust="spacingAndGlyphs">1.25</text>
<text x="539.6" y="445.5" textLength="33.4" lengthAdjust="spacingAndGlyphs">1.50</text>
<text x="612.5" y="445.5" textLength="33.4" lengthAdjust="spacingAndGlyphs">1.75</text>
</g>
<g fill="#111">
<text x="66.4" y="274.6" font-size="15.7" textLength="17.6" lengthAdjust="spacingAndGlyphs">10</text>
<text x="85.6" y="268.9" font-size="11.2" textLength="15" lengthAdjust="spacingAndGlyphs">&#8722;1</text>
<text x="66.4" y="318.7" font-size="15.7" textLength="17.6" lengthAdjust="spacingAndGlyphs">10</text>
<text x="85.6" y="313.1" font-size="11.2" textLength="15" lengthAdjust="spacingAndGlyphs">&#8722;3</text>
<text x="66.4" y="362.8" font-size="15.7" textLength="17.6" lengthAdjust="spacingAndGlyphs">10</text>
<text x="85.6" y="357.1" font-size="11.2" textLength="15" lengthAdjust="spacingAndGlyphs">&#8722;5</text>
<text x="66.4" y="406.9" font-size="15.7" textLength="17.6" lengthAdjust="spacingAndGlyphs">10</text>
<text x="85.6" y="401.2" font-size="11.2" textLength="15" lengthAdjust="spacingAndGlyphs">&#8722;7</text>
</g>
<line x1="317" y1="40.5" x2="351.2" y2="40.5" stroke="#000000" stroke-width="3.3"/>
<line x1="317" y1="63.4" x2="351.2" y2="63.4" stroke="#2a8a1c" stroke-width="3.3"/>
<g font-size="15.6" fill="#111">
<text x="362.2" y="46.1" textLength="83.6" lengthAdjust="spacingAndGlyphs">Spin-Up Fit</text>
<text x="362.2" y="68.9" textLength="105.8" lengthAdjust="spacingAndGlyphs">Spin-Down Fit</text>
<text x="543.4" y="46.3" textLength="101.6" lengthAdjust="spacingAndGlyphs">Spin-Up Data</text>
<text x="543.4" y="68.8" textLength="124" lengthAdjust="spacingAndGlyphs">Spin-Down Data</text>
</g>
<g stroke="#ff1a0d" stroke-width="1.8"><line x1="515.2" y1="33" x2="515.2" y2="48.8"/><line x1="511.2" y1="33" x2="519.2" y2="33"/><line x1="511.2" y1="48.8" x2="519.2" y2="48.8"/></g>
<circle cx="515.2" cy="40.9" r="5.2" fill="#ff1a0d"/>
<g stroke="#0000ff" stroke-width="1.8"><line x1="515.2" y1="55.6" x2="515.2" y2="71.2"/><line x1="511.2" y1="55.6" x2="519.2" y2="55.6"/><line x1="511.2" y1="71.2" x2="519.2" y2="71.2"/></g>
<circle cx="515.2" cy="63.2" r="5.2" fill="#0000ff"/>
<line x1="317" y1="273.4" x2="351.2" y2="273.4" stroke="#000000" stroke-width="3.3"/>
<line x1="317" y1="296.3" x2="351.2" y2="296.3" stroke="#2a8a1c" stroke-width="3.3"/>
<g font-size="15.6" fill="#111">
<text x="362.2" y="279" textLength="83.6" lengthAdjust="spacingAndGlyphs">Spin-Up Fit</text>
<text x="362.2" y="301.8" textLength="105.8" lengthAdjust="spacingAndGlyphs">Spin-Down Fit</text>
<text x="543.4" y="279.2" textLength="101.6" lengthAdjust="spacingAndGlyphs">Spin-Up Data</text>
<text x="543.4" y="301.7" textLength="124" lengthAdjust="spacingAndGlyphs">Spin-Down Data</text>
</g>
<g stroke="#ff1a0d" stroke-width="1.8"><line x1="515.2" y1="265.9" x2="515.2" y2="281.7"/><line x1="511.2" y1="265.9" x2="519.2" y2="265.9"/><line x1="511.2" y1="281.7" x2="519.2" y2="281.7"/></g>
<circle cx="515.2" cy="273.8" r="5.2" fill="#ff1a0d"/>
<g stroke="#0000ff" stroke-width="1.8"><line x1="515.2" y1="288.5" x2="515.2" y2="304.1"/><line x1="511.2" y1="288.5" x2="519.2" y2="288.5"/><line x1="511.2" y1="304.1" x2="519.2" y2="304.1"/></g>
<circle cx="515.2" cy="296.1" r="5.2" fill="#0000ff"/>
<path d="M561,92.2 L575.1,92.2 L569,107.7 L565.6,107.7 Z M566,94.9 L572.2,94.9 L568.2,104.6 Z" fill="#111" fill-rule="evenodd"/>
<text x="574.6" y="112.6" font-size="17" font-weight="bold" font-family="Liberation Serif, serif" textLength="8.4" lengthAdjust="spacingAndGlyphs">1</text>
<text x="587.4" y="106.4" font-size="18.4" font-weight="bold" fill="#111" textLength="60.6" lengthAdjust="spacingAndGlyphs">Gd &gt; 0</text>
<path d="M561,332.4 L575.1,332.4 L569,347.9 L565.6,347.9 Z M566,335.1 L572.2,335.1 L568.2,344.8 Z" fill="#111" fill-rule="evenodd"/>
<text x="574.6" y="352.8" font-size="17" font-weight="bold" font-family="Liberation Serif, serif" textLength="8.4" lengthAdjust="spacingAndGlyphs">1</text>
<text x="587.4" y="346.6" font-size="18.4" font-weight="bold" fill="#111" textLength="60.6" lengthAdjust="spacingAndGlyphs">Gd &gt; 0</text>
<g fill="#111">
<text x="350.6" y="238.2" font-size="18.4" textLength="58.5" lengthAdjust="spacingAndGlyphs">Q (nm</text>
<text x="411.8" y="231.2" font-size="13" textLength="18" lengthAdjust="spacingAndGlyphs">&#8722;1</text>
<text x="431.6" y="238.2" font-size="18.4">)</text>
</g>
<g fill="#111">
<text x="350.6" y="471.3" font-size="18.4" textLength="58.5" lengthAdjust="spacingAndGlyphs">Q (nm</text>
<text x="411.8" y="464.3" font-size="13" textLength="18" lengthAdjust="spacingAndGlyphs">&#8722;1</text>
<text x="431.6" y="471.3" font-size="18.4">)</text>
</g>
<g fill="#111" font-size="20">
<text transform="translate(35.9,165.8) rotate(-90)" textLength="107.2" lengthAdjust="spacingAndGlyphs">Reflectivity</text>
<text transform="translate(55.4,162.7) rotate(-90)" textLength="106.8" lengthAdjust="spacingAndGlyphs">(Arb. units)</text>
</g>
<g fill="#111" font-size="20">
<text transform="translate(35.9,398.2) rotate(-90)" textLength="107.2" lengthAdjust="spacingAndGlyphs">Reflectivity</text>
<text transform="translate(55.4,395.1) rotate(-90)" textLength="106.8" lengthAdjust="spacingAndGlyphs">(Arb. units)</text>
</g>
<text x="0.3" y="19.2" font-size="25" fill="#111" textLength="28.5" lengthAdjust="spacingAndGlyphs">(a)</text>
<text x="0.6" y="254" font-size="25" fill="#111" textLength="30.5" lengthAdjust="spacingAndGlyphs">(b)</text>
<g font-weight="bold" fill="#111"><text x="157.4" y="184.4" font-size="22" textLength="29.4" lengthAdjust="spacingAndGlyphs">0.2</text><text x="192.2" y="184.4" font-size="22" textLength="11.9" lengthAdjust="spacingAndGlyphs">T</text>
<text x="164.3" y="415.9" font-size="21.5" textLength="11" lengthAdjust="spacingAndGlyphs">3</text><text x="180.6" y="415.9" font-size="21.5" textLength="12.4" lengthAdjust="spacingAndGlyphs">T</text></g>
</svg>
</body></html>
